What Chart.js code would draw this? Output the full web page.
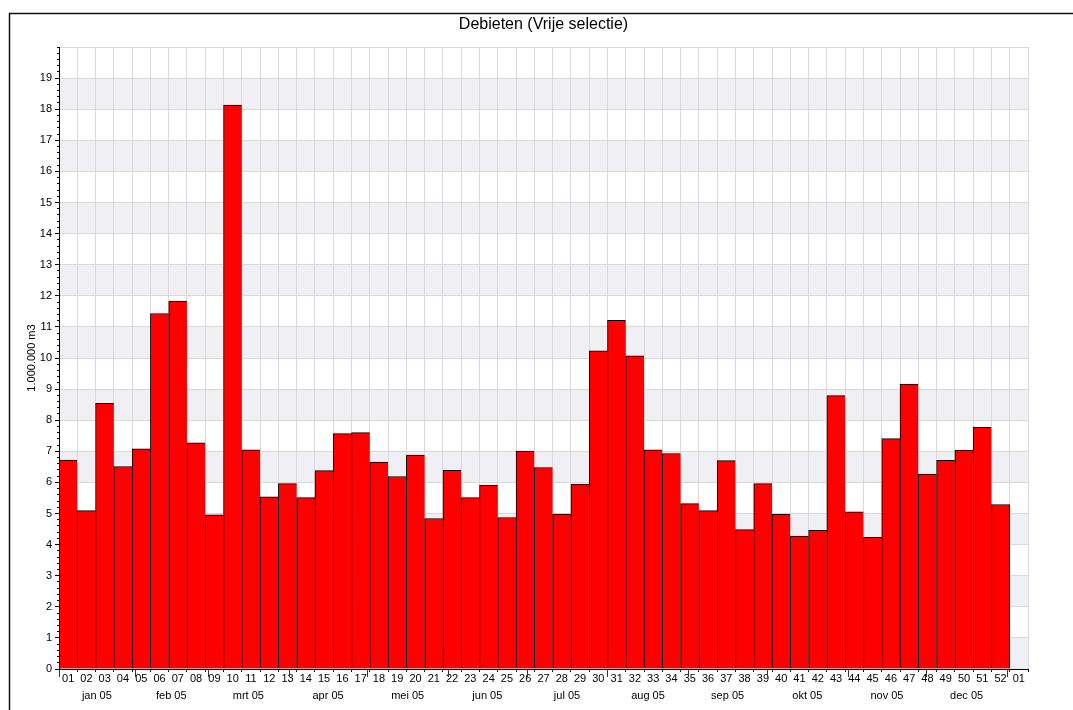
<!DOCTYPE html>
<html><head><meta charset="utf-8">
<script src="https://cdn.jsdelivr.net/npm/chart.js@4.4.1/dist/chart.umd.min.js"></script>
<style>html,body{margin:0;padding:0;background:#fff;} canvas{display:block;}</style>
</head><body>
<canvas id="c" width="1073" height="710"></canvas>
<script>
const weekLabels = ['01','02','03','04','05','06','07','08','09','10','11','12','13','14','15','16','17','18','19','20','21','22','23','24','25','26','27','28','29','30','31','32','33','34','35','36','37','38','39','40','41','42','43','44','45','46','47','48','49','50','51','52','01'];
const values = [6.72,5.09,8.54,6.51,7.08,11.43,11.83,7.27,4.96,18.13,7.05,5.54,5.96,5.51,6.38,7.57,7.60,6.65,6.19,6.88,4.84,6.39,5.51,5.91,4.87,7.01,6.48,4.98,5.95,10.23,11.21,10.07,7.05,6.93,5.32,5.09,6.70,4.48,5.96,4.97,4.27,4.46,8.79,5.05,4.23,7.41,9.16,6.27,6.71,7.04,7.77,5.29,null];
const monthLabels = ['jan 05','feb 05','mrt 05','apr 05','mei 05','jun 05','jul 05','aug 05','sep 05','okt 05','nov 05','dec 05'];
// month starts, measured in week slots from the start of week 01
const monthBoundaries = [0,4.143,8.143,12.571,16.857,21.286,25.571,30.0,34.429,38.714,43.143,47.429,51.857];
const yTickValues = [0,1,2,3,4,5,6,7,8,9,10,11,12,13,14,15,16,17,18,19,20];
const title = 'Debieten (Vrije selectie)';
const yTitle = '1.000.000 m3';

const monthCenters = monthLabels.map((_, i) => (monthBoundaries[i] + monthBoundaries[i+1]) / 2 - 0.5);
const lastIdx = values.reduce((a, v, i) => v != null ? i : a, 0);

Chart.defaults.font.family = "'Liberation Sans', Arial, sans-serif";
Chart.defaults.color = '#000';

const decor = {
  id: 'decor',
  beforeDraw(chart) {
    const {ctx, chartArea: a, scales} = chart;
    ctx.save();
    ctx.fillStyle = '#fff';
    ctx.fillRect(0, 0, chart.width, chart.height);
    ctx.fillStyle = '#efeff4';
    for (let v = 0; v < yTickValues[yTickValues.length-1]; v += 2) {
      const y1 = scales.y.getPixelForValue(v + 1), y0 = scales.y.getPixelForValue(v);
      ctx.fillRect(a.left, y1, a.right - a.left, y0 - y1);
    }
    ctx.restore();
  },
  afterDraw(chart) {
    const {ctx, chartArea: a, scales} = chart;
    ctx.save();
    ctx.strokeStyle = '#333';
    ctx.lineWidth = 1;
    monthBoundaries.forEach(b => {
      const x = Math.round(scales.x.getPixelForValue(b - 0.5)) + 0.5;
      ctx.beginPath(); ctx.moveTo(x, a.bottom); ctx.lineTo(x, a.bottom + 8); ctx.stroke();
    });
    ctx.strokeStyle = '#111';
    ctx.lineWidth = 1.5;
    ctx.beginPath();
    ctx.moveTo(9.5, chart.height); ctx.lineTo(9.5, 13.5); ctx.lineTo(chart.width, 13.5);
    ctx.stroke();
    ctx.restore();
  }
};

new Chart(document.getElementById('c'), {
  type: 'bar',
  data: {
    labels: weekLabels,
    datasets: [{
      data: values,
      backgroundColor: '#ff0000',
      borderColor: '#000',
      borderWidth: (c) => ({top: 1, left: 1, bottom: 0, right: c.dataIndex === lastIdx ? 1 : 0}),
      categoryPercentage: 1,
      barPercentage: 1
    }]
  },
  options: {
    responsive: false,
    animation: false,
    events: [],
    layout: {padding: {left: 0, right: 45, top: 0, bottom: 0}},
    plugins: {
      legend: {display: false},
      tooltip: {enabled: false},
      title: {display: true, fullSize: false, text: title, color: '#000', font: {size: 16, weight: 'normal'}, padding: {top: 14.5, bottom: 13.3}}
    },
    scales: {
      x: {
        type: 'category',
        position: 'bottom',
        weight: 0,
        offset: true,
        grid: {offset: true, color: '#d9d9d9', tickColor: '#000', tickLength: 3, lineWidth: 1},
        border: {color: '#000', width: 1},
        ticks: {autoSkip: false, maxRotation: 0, minRotation: 0, padding: 0, font: {size: 11}, color: '#000'},
        afterFit: (s) => { s.height = 18; }
      },
      x2: {
        type: 'linear',
        position: 'bottom',
        weight: 1,
        min: -0.5,
        max: weekLabels.length - 0.5,
        offset: false,
        grid: {display: false, drawTicks: false},
        border: {display: false},
        afterBuildTicks: (s) => { s.ticks = monthCenters.map(v => ({value: v})); },
        ticks: {autoSkip: false, maxRotation: 0, padding: 2.4, font: {size: 11}, color: '#000',
          callback: (v, i) => monthLabels[i]},
        afterFit: (s) => { s.height = 23; }
      },
      y: {
        type: 'linear',
        position: 'left',
        weight: 1,
        min: 0,
        max: yTickValues[yTickValues.length-1],
        afterBuildTicks: (s) => { s.ticks = yTickValues.map(v => ({value: v})); },
        grid: {color: '#d9d9d9', tickLength: 4, tickColor: (c) => (c.tick && c.tick.value === 20) ? 'rgba(0,0,0,0)' : '#000'},
        border: {color: '#000', width: 1},
        ticks: {padding: 3, font: {size: 11}, color: '#000', callback: (v) => v === 20 ? '' : String(v)},
        title: {display: true, text: yTitle, font: {size: 11}, color: '#000', padding: {top: 25, bottom: 0}},
        afterFit: (s) => { s.width = 59; }
      },
      y2: {
        type: 'linear',
        position: 'left',
        weight: 0,
        min: 0,
        max: yTickValues[yTickValues.length-1],
        ticks: {display: false, stepSize: 0.2},
        grid: {drawOnChartArea: false, tickLength: 2, tickColor: '#000'},
        border: {display: false},
        afterFit: (s) => { s.width = 0; }
      }
    }
  },
  plugins: [decor]
});
</script>
</body></html>
